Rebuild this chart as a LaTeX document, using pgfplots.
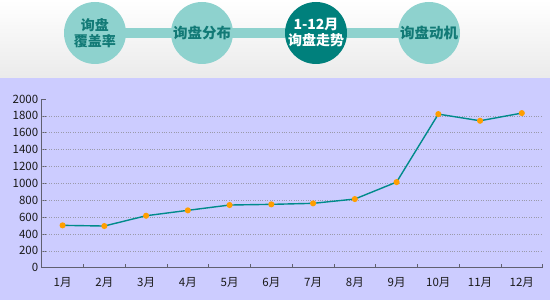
\documentclass[border=0pt]{standalone}
\usepackage{pgfplots}
\pgfplotsset{compat=1.18}
\usepackage{fontspec}
\setmainfont{Noto Sans CJK SC}
\definecolor{lav}{HTML}{CCCCFF}
\definecolor{lteal}{HTML}{8ED2CE}
\definecolor{dteal}{HTML}{00807C}
\definecolor{tealtxt}{HTML}{127A76}
\definecolor{linec}{HTML}{008B8B}
\definecolor{markc}{HTML}{FF9E00}
\definecolor{gridc}{HTML}{9A9AAA}
\definecolor{axc}{HTML}{606070}
\begin{document}
\begin{tikzpicture}[x=1pt,y=1pt]
\useasboundingbox (0,0) rectangle (550,300);
\shade[top color=white,bottom color=white!92!black] (0,222) rectangle (550,300);
\fill[lav] (0,0) rectangle (550,222);
% band
\fill[lteal] (95,262) rectangle (429,272);
% circles
\fill[lteal] (95,267) circle (31);
\fill[lteal] (202,267) circle (31);
\fill[dteal] (316,267) circle (31);
\fill[lteal] (429,267) circle (31);
\node[font=\bfseries\fontsize{14}{16}\selectfont,text=tealtxt,align=center] at (95,267) {询盘\\覆盖率};
\node[font=\bfseries\fontsize{14.5}{16}\selectfont,text=tealtxt] at (202,267) {询盘分布};
\node[font=\bfseries\fontsize{14}{16}\selectfont,text=white,align=center] at (316,267) {1-12月\\询盘走势};
\node[font=\bfseries\fontsize{14.5}{16}\selectfont,text=tealtxt] at (429,267) {询盘动机};
\begin{axis}[
  at={(41.7pt,32.3pt)}, anchor=south west,
  scale only axis, width=501pt, height=168.7pt,
  xmin=0.5, xmax=12.5, ymin=0, ymax=2000,
  axis x line*=bottom, axis y line*=left,
  axis line style={axc, line width=0.8pt},
  xtick={1,...,12},
  xticklabels={1月,2月,3月,4月,5月,6月,7月,8月,9月,10月,11月,12月},
  minor xtick={0.5,1.5,...,12.5},
  major x tick style={draw=none},
  minor tick length=4pt,
  minor tick style={axc, line width=0.6pt},
  ytick={0,200,...,2000},
  major y tick style={axc, line width=0.6pt},
  major tick length=4pt,
  tick align=inside,
  extra y ticks={200,400,...,1800},
  extra y tick labels={},
  extra y tick style={grid=major, major tick length=0pt},
  grid style={gridc, dotted, line width=0.6pt},
  every tick label/.append style={font=\fontsize{11.5}{13}\selectfont, text=black!90},
  xticklabel style={yshift=-6pt},
  /pgf/number format/assume math mode=true,
  /pgf/number format/1000 sep={},
  clip=false,
]
\addplot[linec, line width=1.4pt, mark=*, mark size=2.3pt, mark options={fill=markc, draw=markc}]
 coordinates {(1,502) (2,494) (3,616) (4,680) (5,743) (6,751) (7,763) (8,814) (9,1015) (10,1821) (11,1742) (12,1833)};
\end{axis}
\end{tikzpicture}
\end{document}
